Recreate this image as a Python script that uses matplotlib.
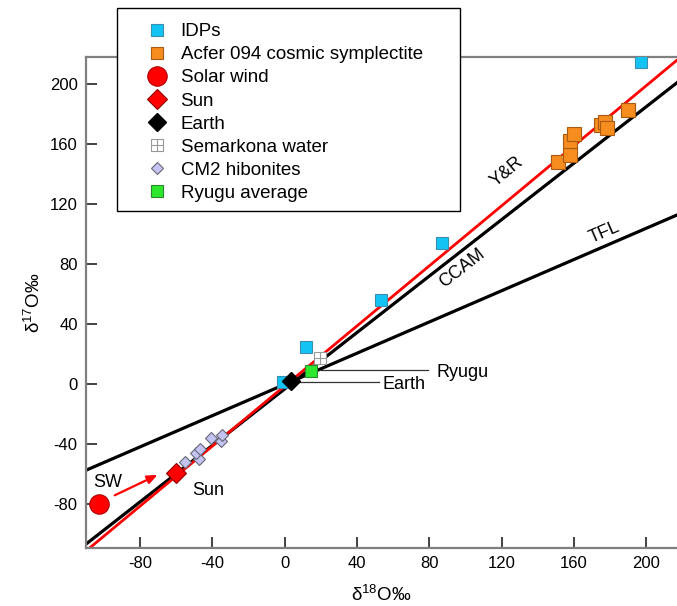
import matplotlib
matplotlib.use("Agg")
import matplotlib.pyplot as plt
import numpy as np
from matplotlib.lines import Line2D
from matplotlib.patches import Rectangle
from matplotlib.legend_handler import HandlerTuple

plt.rcParams["font.family"] = ["Liberation Sans", "DejaVu Sans"]
plt.rcParams["mathtext.fontset"] = "custom"
plt.rcParams["mathtext.rm"] = "Liberation Sans"
plt.rcParams["mathtext.it"] = "Liberation Sans:italic"
plt.rcParams["axes.unicode_minus"] = False

# data (delta18O, delta17O in permil)
idp_x = [197, 87, 53, 12, -1]
idp_y = [215, 94, 56, 25, 1.5]

acfer_x = [151, 158, 158, 160, 175, 177, 178, 190]
acfer_y = [148, 153, 162, 167, 173, 175, 171, 183]

sw_x, sw_y = [-103], [-80]
sun_x, sun_y = [-60], [-59]
earth_x, earth_y = [3.5], [2.2]
semarkona_x, semarkona_y = [19.5], [17.5]
ryugu_x, ryugu_y = [14.5], [9]

hib_x = [-55, -47.5, -49, -47, -41, -35.5, -35]
hib_y = [-52, -49.5, -46, -43, -35.5, -38, -33.5]

# reference lines: slope, intercept
tfl = (0.52, 0.0)
ccam = (0.94, -3.0)
yr = (1.00, -1.0)

xlim = (-110, 217)
ylim = (-109, 218)

W, H = 677, 606
fig = plt.figure(figsize=(W / 100, H / 100), dpi=100)
ax = fig.add_axes([0.127, 0.0957, 0.873, 0.81])

xs = np.array(xlim)
ax.plot(xs, tfl[0] * xs + tfl[1], color="black", lw=2.3, zorder=2)
ax.plot(xs, ccam[0] * xs + ccam[1], color="black", lw=2.3, zorder=2)
ax.plot(xs, yr[0] * xs + yr[1], color="#ff0000", lw=2.0, zorder=2.5)

idp_style = dict(marker="s", ms=9, mfc="#12c4f4", mec="#3a8fb0", mew=0.8)
acfer_style = dict(marker="s", ms=9.5, mfc="#f78c1f", mec="#a85a10", mew=0.8)
sw_style = dict(marker="o", ms=14, mfc="#ff0000", mec="#b00000", mew=0.8)
sun_style = dict(marker="D", ms=10.5, mfc="#ff0000", mec="#900000", mew=0.8)
earth_style = dict(marker="D", ms=9, mfc="black", mec="black")
sem_box = dict(marker="s", ms=9, mfc="white", mec="#999999", mew=0.8)
sem_cross = dict(marker="+", ms=9, mec="#999999", mew=0.8)
hib_style = dict(marker="D", ms=6.5, mfc="#c4c4f2", mec="#666677", mew=0.8)
ryugu_style = dict(marker="s", ms=9, mfc="#2ee82e", mec="#2a8a2a", mew=0.8)

ax.plot(idp_x, idp_y, ls="", zorder=3, **idp_style)
ax.plot(acfer_x, acfer_y, ls="", zorder=3, **acfer_style)
ax.plot(hib_x, hib_y, ls="", zorder=3, **hib_style)
ax.plot(sw_x, sw_y, ls="", zorder=4, **sw_style)
ax.plot(sun_x, sun_y, ls="", zorder=4, **sun_style)
ax.plot(semarkona_x, semarkona_y, ls="", zorder=4, **sem_box)
ax.plot(semarkona_x, semarkona_y, ls="", zorder=4, **sem_cross)
ax.plot(ryugu_x, ryugu_y, ls="", zorder=4, **ryugu_style)
ax.plot(earth_x, earth_y, ls="", zorder=5, **earth_style)

# leader lines and labels
ax.plot([20, 79], [9.3, 9.3], color="#333333", lw=0.9, zorder=1)
ax.text(84, 8, "Ryugu", fontsize=13, va="center", ha="left")
ax.plot([8, 52], [1.3, 1.3], color="#333333", lw=0.9, zorder=1)
ax.text(54, 0, "Earth", fontsize=13, va="center", ha="left")
ax.text(-106, -65.5, "SW", fontsize=13, va="center", ha="left")
ax.text(-51, -71, "Sun", fontsize=13, va="center", ha="left")
ax.annotate("", xy=(-69, -59.5), xytext=(-95.5, -74.7),
            arrowprops=dict(arrowstyle="-|>,head_length=0.6,head_width=0.25",
                            color="#ff0000", lw=1.6))

for label, (slope, _), pos in [("Y&R", yr, (123, 141.5)),
                               ("CCAM", ccam, (98, 77.5)),
                               ("TFL", tfl, (177, 101))]:
    ax.text(pos[0], pos[1], label, fontsize=13, ha="center", va="center",
            rotation=np.degrees(np.arctan(slope)), transform_rotates_text=True,
            rotation_mode="anchor")

ax.set_xlim(xlim)
ax.set_ylim(ylim)
ax.set_xticks(np.arange(-80, 201, 40))
ax.set_yticks(np.arange(-80, 201, 40))
ax.tick_params(direction="in", length=8, width=1.2, color="#222222",
               labelsize=12, pad=6)
for side in ["left", "bottom", "top"]:
    ax.spines[side].set_color("#808080")
    ax.spines[side].set_linewidth(1.6)
ax.spines["right"].set_visible(False)

ax.set_xlabel(r"δ$^{18}$O‰", fontsize=13.5, labelpad=10)
ax.set_ylabel(r"δ$^{17}$O‰", fontsize=13.5, labelpad=4)

# legend box (drawn separately so its size matches the reference)
fig.add_artist(Rectangle((117 / W, 1 - 211 / H), 343 / W, 203 / H,
                         transform=fig.transFigure, fc="white", ec="black",
                         lw=1.0, zorder=4))

handles = [
    Line2D([], [], ls="", **idp_style),
    Line2D([], [], ls="", **dict(acfer_style, ms=9)),
    Line2D([], [], ls="", **sw_style),
    Line2D([], [], ls="", **sun_style),
    Line2D([], [], ls="", **earth_style),
    (Line2D([], [], ls="", **sem_box), Line2D([], [], ls="", **sem_cross)),
    Line2D([], [], ls="", **hib_style),
    Line2D([], [], ls="", **ryugu_style),
]
labels = ["IDPs", "Acfer 094 cosmic symplectite", "Solar wind", "Sun", "Earth",
          "Semarkona water", "CM2 hibonites", "Ryugu average"]
leg = fig.legend(handles, labels, loc="upper left",
                 bbox_to_anchor=(144 / W, 1 - 23 / H),
                 fontsize=13.5, frameon=False, labelspacing=0.32,
                 handletextpad=0.55, borderpad=0, handlelength=1.4,
                 borderaxespad=0,
                 handler_map={tuple: HandlerTuple(ndivide=1)})
leg.set_zorder(5)

fig.savefig("out.png", dpi=100)
